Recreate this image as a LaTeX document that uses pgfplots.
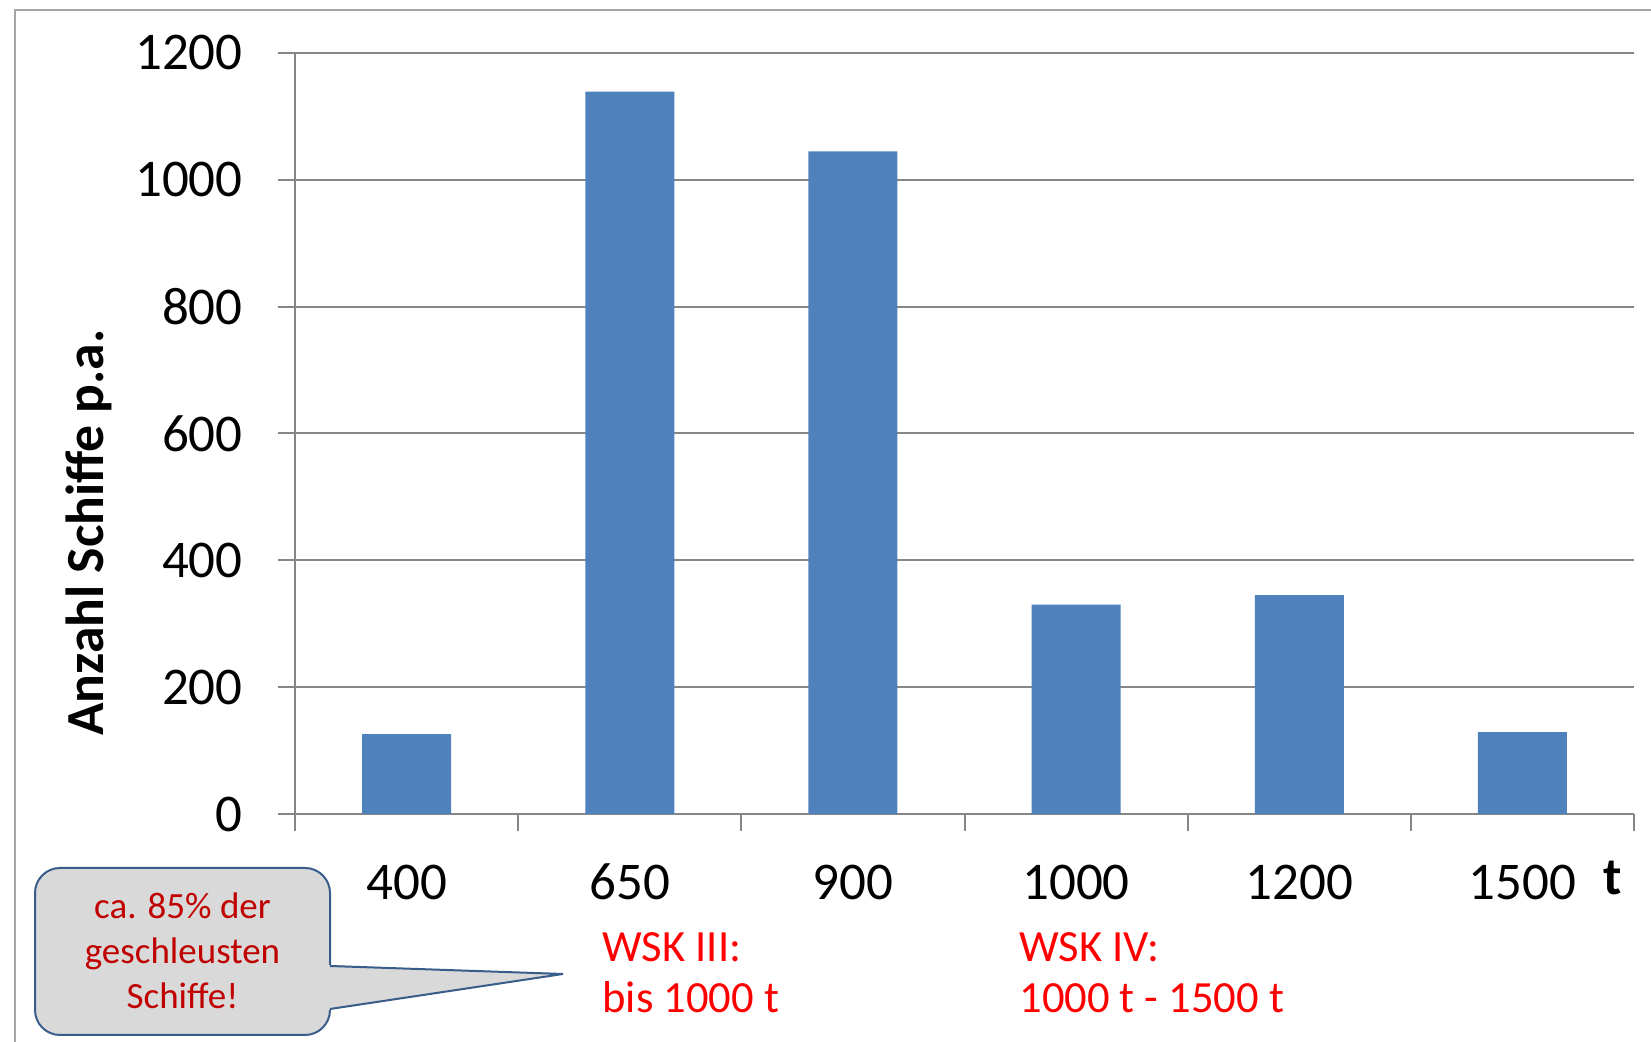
\documentclass[border=0pt]{standalone}
\usepackage{pgfplots}
\pgfplotsset{compat=1.18}
\usepackage{fontspec}
\setmainfont{Carlito}
\definecolor{barblue}{RGB}{79,129,189}
\definecolor{axgray}{RGB}{134,134,134}
\definecolor{framegray}{RGB}{165,165,165}
\definecolor{callfill}{RGB}{217,217,217}
\definecolor{callborder}{RGB}{56,93,138}
\definecolor{darkred}{RGB}{192,0,0}
\begin{document}
\begin{tikzpicture}[x=0.5pt,y=0.5pt]
\useasboundingbox (0,0) rectangle (1651,1042);
\draw[framegray, line width=1pt] (15,0) -- (15,1032) -- (1651,1032);
\begin{axis}[
 at={(147.5pt,114pt)}, anchor=south west,
 scale only axis, width=669.5pt, height=380.5pt,
 xmin=-0.5, xmax=5.5, ymin=0, ymax=1200,
 axis x line*=bottom, axis y line*=left,
 axis line style={axgray, line width=1pt, -},
 ybar, bar width=44.5pt,
 xtick={-0.5,0.5,1.5,2.5,3.5,4.5,5.5}, x tick label as interval,
 xticklabels={400,650,900,1000,1200,1500},
 ytick={0,200,400,600,800,1000,1200},
 tick align=outside, major tick length=8.5pt,
 tick style={axgray, line width=1pt},
 ymajorgrids, grid style={axgray, line width=1pt},
 /pgf/number format/1000 sep={},
 /pgf/number format/assume math mode=true,
 ticklabel style={font=\fontsize{26.5}{30}\selectfont, inner sep=0pt, text=black},
 yticklabel style={anchor=east, xshift=-17.5pt},
 xticklabel style={anchor=base, yshift=-34.5pt},
]
\addplot[fill=barblue, draw=none] coordinates {(0,126) (1,1139) (2,1045) (3,330) (4,345) (5,129)};
\end{axis}
\node[anchor=base, inner sep=0pt, font=\bfseries\fontsize{26.5}{30}\selectfont] at (1613,147) {t};
\node[rotate=90, anchor=base, inner sep=0pt, font=\bfseries\fontsize{26.8}{30}\selectfont] at (103,509.5) {Anzahl Schiffe p.a.};
\begin{scope}[every node/.style={anchor=base west, inner sep=0pt, text=red, font=\fontsize{22.3}{25}\selectfont}]
\node at (602,80) {WSK III:};
\node at (602,29) {bis 1000 t};
\node at (1019,80) {WSK IV:};
\node at (1019,29) {1000 t - 1500 t};
\end{scope}
\draw[fill=callfill, draw=callborder, line width=1pt, rounded corners=12.5pt] (35,7) rectangle (330,174);
\fill[callfill] (327,77) -- (563,68) -- (327,32) -- cycle;
\draw[callborder, line width=1pt] (330,76) -- (563,68) -- (330,33);
\begin{scope}[every node/.style={anchor=base, inner sep=0pt, text=darkred, font=\fontsize{18.5}{22}\selectfont}]
\node at (182.5,123) {ca. 85\% der};
\node at (182.5,78) {geschleusten};
\node at (182.5,33) {Schiffe!};
\end{scope}
\end{tikzpicture}
\end{document}
